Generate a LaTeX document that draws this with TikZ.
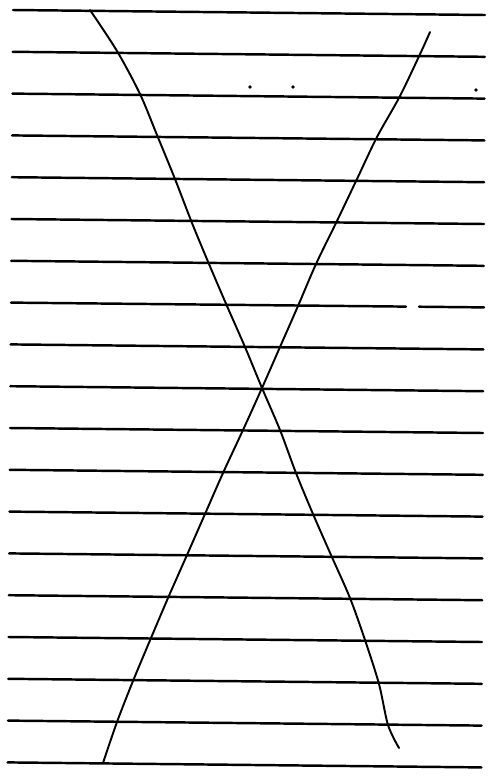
\documentclass[tikz,border=0pt]{standalone}
\usetikzlibrary{positioning}

\begin{document}
\begin{tikzpicture}[
      x=0.02cm, y=-0.02cm,
      rule/.style={draw, line width=1.4pt, line cap=round},
      trace/.style={draw, line width=1.1pt, line cap=round},
      speck/.style={fill, circle, inner sep=0pt, minimum size=2.2pt}
    ]
    \useasboundingbox (0,0) rectangle (489,782);
    % === Horizontal rules ===
    \foreach \i in {0,...,6,8,9,...,18}
      \draw[rule] ({13-0.3*\i}, {10+41.8*\i}) -- ({485-0.2*\i}, {15+41.8*\i});
    % broken rule
    \draw[rule] (11, 302.6) -- (406, 306.6);
    \draw[rule] (419, 306.7) -- (484, 307.4);
    % === Crossing traces ===
    \draw[trace] plot[smooth, tension=0.5] coordinates {
      (90,10) (117,51) (140,94) (157,135) (175,179) (192,223) (209,264)
      (227,306) (245,347) (262,388) (280,430) (296,473) (313,514)
      (331,555) (350,598) (365,640) (379,684) (388,725) (399,748)};
    \draw[trace] plot[smooth, tension=0.5] coordinates {
      (430,32) (421,52) (400,96) (377,137) (357,179) (336,223) (316,264)
      (298,306) (280,347) (262,388) (243,430) (223,473) (205,514)
      (187,555) (168,598) (151,638) (133,681) (117,722) (103,763)};
    % specks
    \node[speck] (d1) at (250,87) {};
    \node[speck] (d2) at (293,87) {};
    \node[speck] (d3) at (476,90) {};
  \end{tikzpicture}
\end{document}
